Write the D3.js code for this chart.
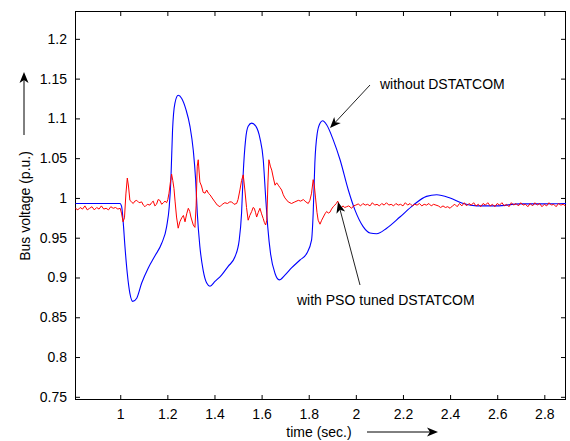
<!DOCTYPE html>
<html>
<head>
<meta charset="utf-8">
<script src="https://cdn.jsdelivr.net/npm/d3@7"></script>
<style>
  body { margin: 0; background: #fff; }
  svg { display: block; font-family: "Liberation Sans", Arial, sans-serif; }
</style>
</head>
<body>
<svg id="chart" width="570" height="441"></svg>
<script>
// data: [time (s), bus voltage (p.u.)]
const withoutDstatcom = [
  [0.81, 0.993], [0.999, 0.993], [1.006, 0.989], [1.013, 0.968], [1.02, 0.939],
  [1.03, 0.905], [1.041, 0.880], [1.053, 0.870], [1.07, 0.874], [1.091, 0.893],
  [1.119, 0.912], [1.147, 0.927], [1.176, 0.943], [1.197, 0.964], [1.208, 0.989],
  [1.215, 1.023], [1.222, 1.085], [1.232, 1.119], [1.246, 1.129], [1.261, 1.125],
  [1.279, 1.111], [1.296, 1.090], [1.31, 1.060], [1.32, 1.023], [1.327, 0.981],
  [1.338, 0.939], [1.352, 0.909], [1.367, 0.893], [1.381, 0.889], [1.402, 0.895],
  [1.43, 0.903], [1.458, 0.914], [1.487, 0.926], [1.505, 0.947], [1.515, 0.981],
  [1.522, 1.031], [1.532, 1.073], [1.543, 1.090], [1.558, 1.094], [1.576, 1.090],
  [1.593, 1.075], [1.607, 1.048], [1.617, 1.002], [1.626, 0.964], [1.638, 0.930],
  [1.657, 0.905], [1.675, 0.897], [1.699, 0.903], [1.727, 0.912], [1.763, 0.922],
  [1.791, 0.930], [1.812, 0.947], [1.819, 0.981], [1.826, 1.044], [1.836, 1.081],
  [1.848, 1.094], [1.859, 1.097], [1.876, 1.092], [1.904, 1.073], [1.933, 1.048],
  [1.968, 1.010], [1.996, 0.985], [2.031, 0.964], [2.06, 0.956], [2.088, 0.955],
  [2.131, 0.962], [2.187, 0.976], [2.244, 0.991], [2.30, 1.002], [2.343, 1.004],
  [2.40, 1.000], [2.456, 0.993], [2.513, 0.990], [2.598, 0.990], [2.697, 0.9925],
  [2.78, 0.9925], [2.892, 0.993]
];

const withPsoDstatcom = [
  [0.81, 0.987], [0.82, 0.985], [0.83, 0.988], [0.84, 0.986], [0.85, 0.990],
  [0.86, 0.985], [0.87, 0.987], [0.88, 0.989], [0.89, 0.985], [0.90, 0.988],
  [0.91, 0.986], [0.92, 0.990], [0.93, 0.986], [0.94, 0.987], [0.95, 0.985],
  [0.96, 0.989], [0.97, 0.987], [0.98, 0.988], [0.99, 0.986], [1.00, 0.987],
  [1.006, 0.980], [1.012, 0.970], [1.018, 0.975], [1.024, 1.005], [1.030, 1.025],
  [1.035, 1.015], [1.041, 0.997], [1.048, 0.995], [1.055, 0.993], [1.062, 0.996],
  [1.07, 0.997], [1.08, 0.994], [1.091, 0.995], [1.098, 0.991], [1.105, 0.989],
  [1.115, 0.992], [1.126, 0.991], [1.133, 0.994], [1.14, 0.996], [1.147, 0.990],
  [1.154, 0.992], [1.161, 0.998], [1.168, 0.997], [1.176, 0.992], [1.183, 0.994],
  [1.19, 0.996], [1.197, 0.994], [1.202, 0.998], [1.207, 1.006], [1.213, 1.020],
  [1.218, 1.030], [1.223, 1.022], [1.228, 1.012], [1.233, 0.995], [1.239, 0.976],
  [1.246, 0.962], [1.253, 0.970], [1.261, 0.975], [1.268, 0.978], [1.275, 0.970],
  [1.282, 0.980], [1.289, 0.987], [1.295, 0.983], [1.30, 0.976], [1.31, 0.966],
  [1.317, 0.963], [1.322, 0.990], [1.327, 1.040], [1.331, 1.048], [1.338, 1.020],
  [1.345, 1.015], [1.352, 1.007], [1.36, 1.006], [1.367, 1.010], [1.374, 1.006],
  [1.381, 1.004], [1.39, 1.000], [1.402, 0.995], [1.412, 0.991], [1.423, 0.989],
  [1.433, 0.992], [1.444, 0.994], [1.455, 0.993], [1.465, 0.995], [1.473, 0.995],
  [1.483, 0.992], [1.494, 0.993], [1.50, 0.998], [1.508, 1.010], [1.515, 1.022],
  [1.522, 1.029], [1.529, 1.010], [1.536, 0.988], [1.543, 0.972], [1.55, 0.978],
  [1.558, 0.983], [1.564, 0.988], [1.569, 0.987], [1.574, 0.982], [1.579, 0.976],
  [1.586, 0.982], [1.593, 0.987], [1.60, 0.980], [1.607, 0.974], [1.612, 0.969],
  [1.617, 0.966], [1.622, 0.972], [1.627, 1.020], [1.631, 1.048], [1.637, 1.040],
  [1.643, 1.035], [1.65, 1.025], [1.657, 1.016], [1.664, 1.019], [1.671, 1.016],
  [1.678, 1.013], [1.685, 1.010], [1.692, 1.004], [1.699, 1.000], [1.713, 0.995],
  [1.727, 0.993], [1.741, 0.995], [1.756, 0.997], [1.766, 0.996], [1.777, 0.998],
  [1.788, 0.995], [1.798, 0.993], [1.805, 0.997], [1.812, 1.006], [1.819, 1.023],
  [1.824, 1.015], [1.829, 1.000], [1.835, 0.982], [1.84, 0.972], [1.848, 0.967],
  [1.855, 0.972], [1.862, 0.976], [1.869, 0.980], [1.876, 0.983], [1.883, 0.981],
  [1.89, 0.982], [1.897, 0.986], [1.904, 0.989], [1.911, 0.991], [1.917, 0.993],
  [1.923, 0.996], [1.93, 0.991], [1.937, 0.987], [1.945, 0.990], [1.953, 0.988],
  [1.961, 0.989], [1.97, 0.990], [1.982, 0.987], [1.99, 0.990], [2.00, 0.991],
  [2.01, 0.9925], [2.02, 0.990], [2.03, 0.993], [2.04, 0.991], [2.05, 0.992],
  [2.06, 0.990], [2.07, 0.994], [2.08, 0.991], [2.09, 0.992], [2.10, 0.990],
  [2.11, 0.993], [2.12, 0.991], [2.13, 0.994], [2.14, 0.991], [2.15, 0.992],
  [2.16, 0.990], [2.17, 0.993], [2.18, 0.991], [2.19, 0.992], [2.20, 0.990],
  [2.21, 0.994], [2.22, 0.991], [2.23, 0.993], [2.24, 0.990], [2.25, 0.992],
  [2.26, 0.991], [2.27, 0.993], [2.28, 0.990], [2.29, 0.992], [2.30, 0.991],
  [2.31, 0.993], [2.32, 0.990], [2.33, 0.992], [2.34, 0.991], [2.35, 0.990],
  [2.36, 0.988], [2.37, 0.990], [2.38, 0.988], [2.39, 0.989], [2.40, 0.987],
  [2.41, 0.990], [2.42, 0.992], [2.43, 0.989], [2.44, 0.993], [2.45, 0.990],
  [2.46, 0.994], [2.47, 0.990], [2.48, 0.993], [2.49, 0.991], [2.50, 0.994],
  [2.51, 0.990], [2.52, 0.992], [2.53, 0.989], [2.54, 0.993], [2.55, 0.991],
  [2.56, 0.994], [2.57, 0.990], [2.58, 0.992], [2.59, 0.989], [2.60, 0.993],
  [2.61, 0.991], [2.62, 0.994], [2.63, 0.990], [2.64, 0.992], [2.65, 0.989],
  [2.66, 0.994], [2.67, 0.991], [2.68, 0.993], [2.69, 0.990], [2.70, 0.994],
  [2.71, 0.991], [2.72, 0.992], [2.73, 0.989], [2.74, 0.993], [2.75, 0.990],
  [2.76, 0.994], [2.77, 0.991], [2.78, 0.993], [2.79, 0.989], [2.80, 0.992],
  [2.81, 0.990], [2.82, 0.994], [2.83, 0.991], [2.84, 0.992], [2.85, 0.989],
  [2.86, 0.993], [2.87, 0.991], [2.88, 0.992], [2.89, 0.990]
];

const xTicks = [1, 1.2, 1.4, 1.6, 1.8, 2, 2.2, 2.4, 2.6, 2.8];
const yTicks = [0.75, 0.8, 0.85, 0.9, 0.95, 1, 1.05, 1.1, 1.15, 1.2];

const plotLeft = 75, plotTop = 11, plotRight = 566, plotBottom = 400;

const svg = d3.select("#chart");

const x = d3.scaleLinear().domain([0.808, 2.892]).range([plotLeft, plotRight]);
const y = d3.scaleLinear().domain([0.746, 1.235]).range([plotBottom, plotTop]);

svg.append("defs").append("clipPath").attr("id", "plotClip")
  .append("rect")
  .attr("x", plotLeft).attr("y", plotTop)
  .attr("width", plotRight - plotLeft).attr("height", plotBottom - plotTop);

// axes, MATLAB style: ticks point inwards, box on all four sides
const fmt = d => String(+d.toFixed(2));

svg.append("g")
  .attr("transform", `translate(0,${plotBottom})`)
  .call(d3.axisBottom(x).tickValues(xTicks).tickFormat(fmt).tickSizeInner(-5).tickSizeOuter(0).tickPadding(9))
  .call(g => g.select(".domain").remove());

svg.append("g")
  .attr("transform", `translate(0,${plotTop})`)
  .call(d3.axisTop(x).tickValues(xTicks).tickFormat("").tickSizeInner(-5).tickSizeOuter(0))
  .call(g => g.select(".domain").remove());

svg.append("g")
  .attr("transform", `translate(${plotLeft},0)`)
  .call(d3.axisLeft(y).tickValues(yTicks).tickFormat(fmt).tickSizeInner(-5).tickSizeOuter(0).tickPadding(8))
  .call(g => g.select(".domain").remove());

svg.append("g")
  .attr("transform", `translate(${plotRight},0)`)
  .call(d3.axisRight(y).tickValues(yTicks).tickFormat("").tickSizeInner(-5).tickSizeOuter(0))
  .call(g => g.select(".domain").remove());

svg.selectAll(".tick text")
  .style("font-size", "14px")
  .style("font-family", "'Liberation Sans', Arial, sans-serif")
  .attr("fill", "#000");

svg.append("rect")
  .attr("x", plotLeft + 0.5).attr("y", plotTop + 0.5)
  .attr("width", plotRight - plotLeft - 1).attr("height", plotBottom - plotTop - 1)
  .attr("fill", "none")
  .attr("stroke", "#000")
  .attr("stroke-width", 1);

// curves
const plot = svg.append("g").attr("clip-path", "url(#plotClip)");

plot.append("path")
  .datum(withoutDstatcom)
  .attr("fill", "none")
  .attr("stroke", "#0000ff")
  .attr("stroke-width", 1.1)
  .attr("d", d3.line().x(d => x(d[0])).y(d => y(d[1])).curve(d3.curveMonotoneX));

plot.append("path")
  .datum(withPsoDstatcom)
  .attr("fill", "none")
  .attr("stroke", "#ff0000")
  .attr("stroke-width", 1)
  .attr("d", d3.line().x(d => x(d[0])).y(d => y(d[1])));

// arrows
function arrow(x1, y1, x2, y2, color) {
  const a = Math.atan2(y2 - y1, x2 - x1);
  const len = 11, wid = 4.5, back = 8;
  const p = (l, w) => [
    x2 - l * Math.cos(a) - w * Math.sin(a),
    y2 - l * Math.sin(a) + w * Math.cos(a)
  ];
  svg.append("line")
    .attr("x1", x1).attr("y1", y1)
    .attr("x2", x2 - back * Math.cos(a)).attr("y2", y2 - back * Math.sin(a))
    .attr("stroke", color).attr("stroke-width", 1);
  const pts = [[x2, y2], p(len, wid), p(back, 0), p(len, -wid)];
  svg.append("path")
    .attr("d", "M" + pts.map(q => q.join(",")).join("L") + "Z")
    .attr("fill", "#000");
}

arrow(370, 85, 330, 128, "#222");
arrow(360, 285, 338, 202, "#222");
arrow(24, 135, 24, 72, "#000");
arrow(367, 432, 438, 432, "#000");

const textStyle = sel => sel
  .style("font-size", "14px")
  .attr("fill", "#000");

svg.append("text")
  .attr("x", 380).attr("y", 89)
  .text("without DSTATCOM")
  .call(textStyle);

svg.append("text")
  .attr("x", 297).attr("y", 305)
  .text("with PSO tuned DSTATCOM")
  .call(textStyle);

svg.append("text")
  .attr("x", 319).attr("y", 437)
  .attr("text-anchor", "middle")
  .text("time (sec.)")
  .call(textStyle);

svg.append("text")
  .attr("transform", "translate(30,206) rotate(-90)")
  .attr("text-anchor", "middle")
  .text("Bus voltage (p.u.)")
  .call(textStyle);
</script>
</body>
</html>
